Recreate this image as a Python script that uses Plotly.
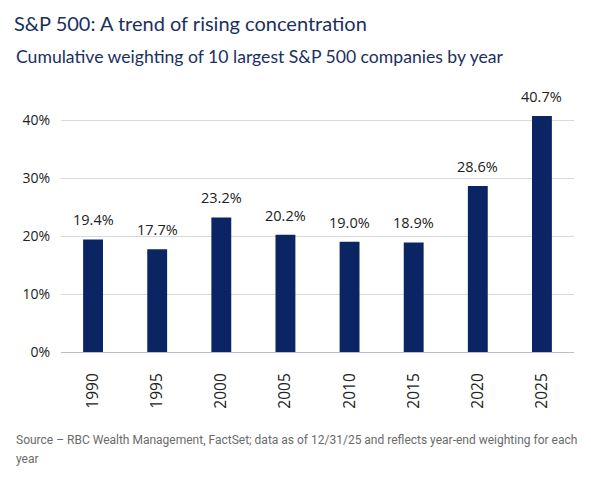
import plotly.graph_objects as go

years = ["1990", "1995", "2000", "2005", "2010", "2015", "2020", "2025"]
weights = [19.4, 17.7, 23.2, 20.2, 19.0, 18.9, 28.6, 40.7]
y_ticks = [0, 10, 20, 30, 40]
y_tick_labels = ["0%", "10%", "20%", "30%", "40%"]

title_text = "S&P 500: A trend of rising concentration"
subtitle_text = "Cumulative weighting of 10 largest S&P 500 companies by year"
source_line1 = "Source \u2013 RBC Wealth Management, FactSet; data as of 12/31/25 and reflects year-end weighting for each"
source_line2 = "year"

NAVY = "#0b2463"
TITLE_COLOR = "#1b2f5e"

# page body has an 8px default margin, so the figure is sized/offset for it
W, H = 575, 467

fig = go.Figure()
fig.add_trace(go.Bar(
    x=years, y=weights,
    marker=dict(color=NAVY, line=dict(width=0)),
    hoverinfo="skip",
))

annotations = []
for i, w in enumerate(weights):
    annotations.append(dict(
        x=i, y=w, xref="x", yref="y", text=f"{w:.1f}%",
        showarrow=False, yanchor="bottom", yshift=8,
        font=dict(family="Open Sans", size=14.5, color="#222222"),
    ))

annotations.append(dict(
    xref="paper", yref="paper", x=-0.0916, y=1.134, xanchor="left", yanchor="middle",
    text=subtitle_text, showarrow=False,
    font=dict(family="Lato", size=17.6, color=TITLE_COLOR),
))
annotations.append(dict(
    xref="paper", yref="paper", x=-0.0916, y=-0.337, xanchor="left", yanchor="middle",
    text=source_line1, showarrow=False,
    font=dict(family="Roboto", size=12, color="#6b6b6b"),
))
annotations.append(dict(
    xref="paper", yref="paper", x=-0.0916, y=-0.41, xanchor="left", yanchor="middle",
    text=source_line2, showarrow=False,
    font=dict(family="Roboto", size=12, color="#6b6b6b"),
))

fig.update_layout(
    width=W, height=H,
    margin=dict(l=53, r=9, t=83, b=123),
    paper_bgcolor="white", plot_bgcolor="white",
    showlegend=False,
    bargap=0.69,
    title=dict(
        text=title_text, x=6/W, xanchor="left", xref="container",
        y=1 - 16/H, yanchor="middle", yref="container",
        font=dict(family="Lato", size=20, color=TITLE_COLOR),
    ),
    annotations=annotations,
    xaxis=dict(
        type="category", tickangle=-90, range=[-0.5, len(years) - 0.5],
        showline=True, linecolor="#bfbfbf", linewidth=1,
        showgrid=False, ticks="", ticklabelstandoff=14,
        tickfont=dict(family="Open Sans", size=15.5, color="#222222"),
    ),
    yaxis=dict(
        range=[0, 45], tickvals=y_ticks, ticktext=y_tick_labels,
        showgrid=True, gridcolor="#d9d9d9", gridwidth=1,
        zeroline=False, showline=False, ticks="", ticklabelstandoff=10,
        tickfont=dict(family="Open Sans", size=14, color="#222222"),
    ),
)

fig.write_html("out.html")
